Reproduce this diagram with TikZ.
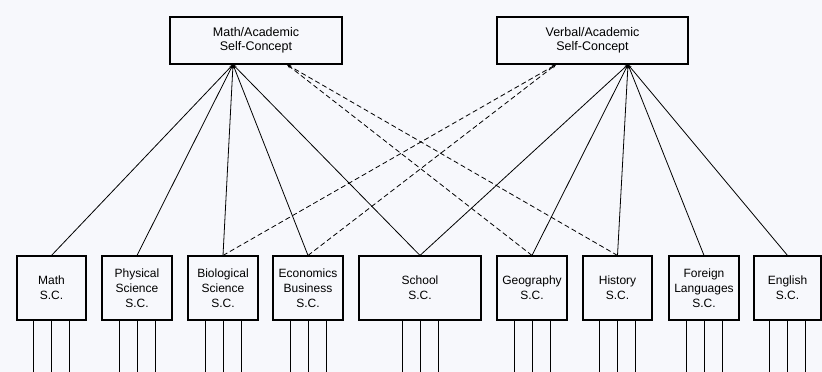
\documentclass[tikz,border=0pt]{standalone}
\usepackage{fontspec}
\setmainfont{Liberation Sans}
\usetikzlibrary{arrows.meta}
\definecolor{paper}{HTML}{F7F8FC}
\tikzset{
  topbox/.style={draw,line width=1.1pt,minimum height=47pt,inner sep=0pt,align=center,font=\fontsize{12.5}{14}\selectfont},
  scbox/.style={draw,line width=1.1pt,minimum height=64pt,minimum width=70pt,inner sep=0pt,align=center,font=\fontsize{12}{15}\selectfont},
  load/.style={line width=0.8pt,-{Stealth[length=4pt,width=3pt]}},
  cross/.style={load,dash pattern=on 5pt off 3pt},
  ind/.style={line width=0.8pt}
}
\begin{document}
\begin{tikzpicture}[x=1pt,y=-1pt]
\fill[paper] (0,0) rectangle (822,372);
\useasboundingbox (0,0) rectangle (822,372);

% higher-order factors
\node[topbox,minimum width=172pt] (math) at (256,40.5) {Math/Academic\\Self-Concept};
\node[topbox,minimum width=191pt] (verb) at (592.5,40.5) {Verbal/Academic\\Self-Concept};

\coordinate (mathin) at ([xshift=-23pt]math.south);
\coordinate (mathx) at ([xshift=31pt]math.south);
\coordinate (verbin) at ([xshift=35.5pt]verb.south);
\coordinate (verbx) at ([xshift=-36.5pt]verb.south);

% first-order factors
\node[scbox,minimum width=69pt] (msc) at (51.5,288) {Math\\S.C.};
\node[scbox] (psc) at (137,288) {Physical\\Science\\S.C.};
\node[scbox] (bsc) at (223,288) {Biological\\Science\\S.C.};
\node[scbox] (eco) at (308,288) {Economics\\Business\\S.C.};
\node[scbox,minimum width=122pt] (ssc) at (420,288) {School\\S.C.};
\node[scbox] (gsc) at (532,288) {Geography\\S.C.};
\node[scbox,minimum width=69pt] (hsc) at (617.5,288) {History\\S.C.};
\node[scbox] (fsc) at (704,288) {Foreign\\Languages\\S.C.};
\node[scbox,minimum width=67pt] (eng) at (787.5,288) {English\\S.C.};

% loadings
\foreach \b in {msc,psc,bsc,eco,ssc}
  \draw[load] (\b.north) -- (mathin);
\foreach \b in {ssc,gsc,hsc,fsc,eng}
  \draw[load] (\b.north) -- (verbin);
\foreach \b in {gsc,hsc}
  \draw[cross] (\b.north) -- (mathx);
\foreach \b in {bsc,eco}
  \draw[cross] (\b.north) -- (verbx);

% indicators
\foreach \b in {msc,psc,bsc,eco,ssc,gsc,hsc,fsc,eng}
  \foreach \d in {-18,0,18}
    \draw[ind] ([xshift=\d pt]\b.south) -- ++(0,53);
\end{tikzpicture}
\end{document}
